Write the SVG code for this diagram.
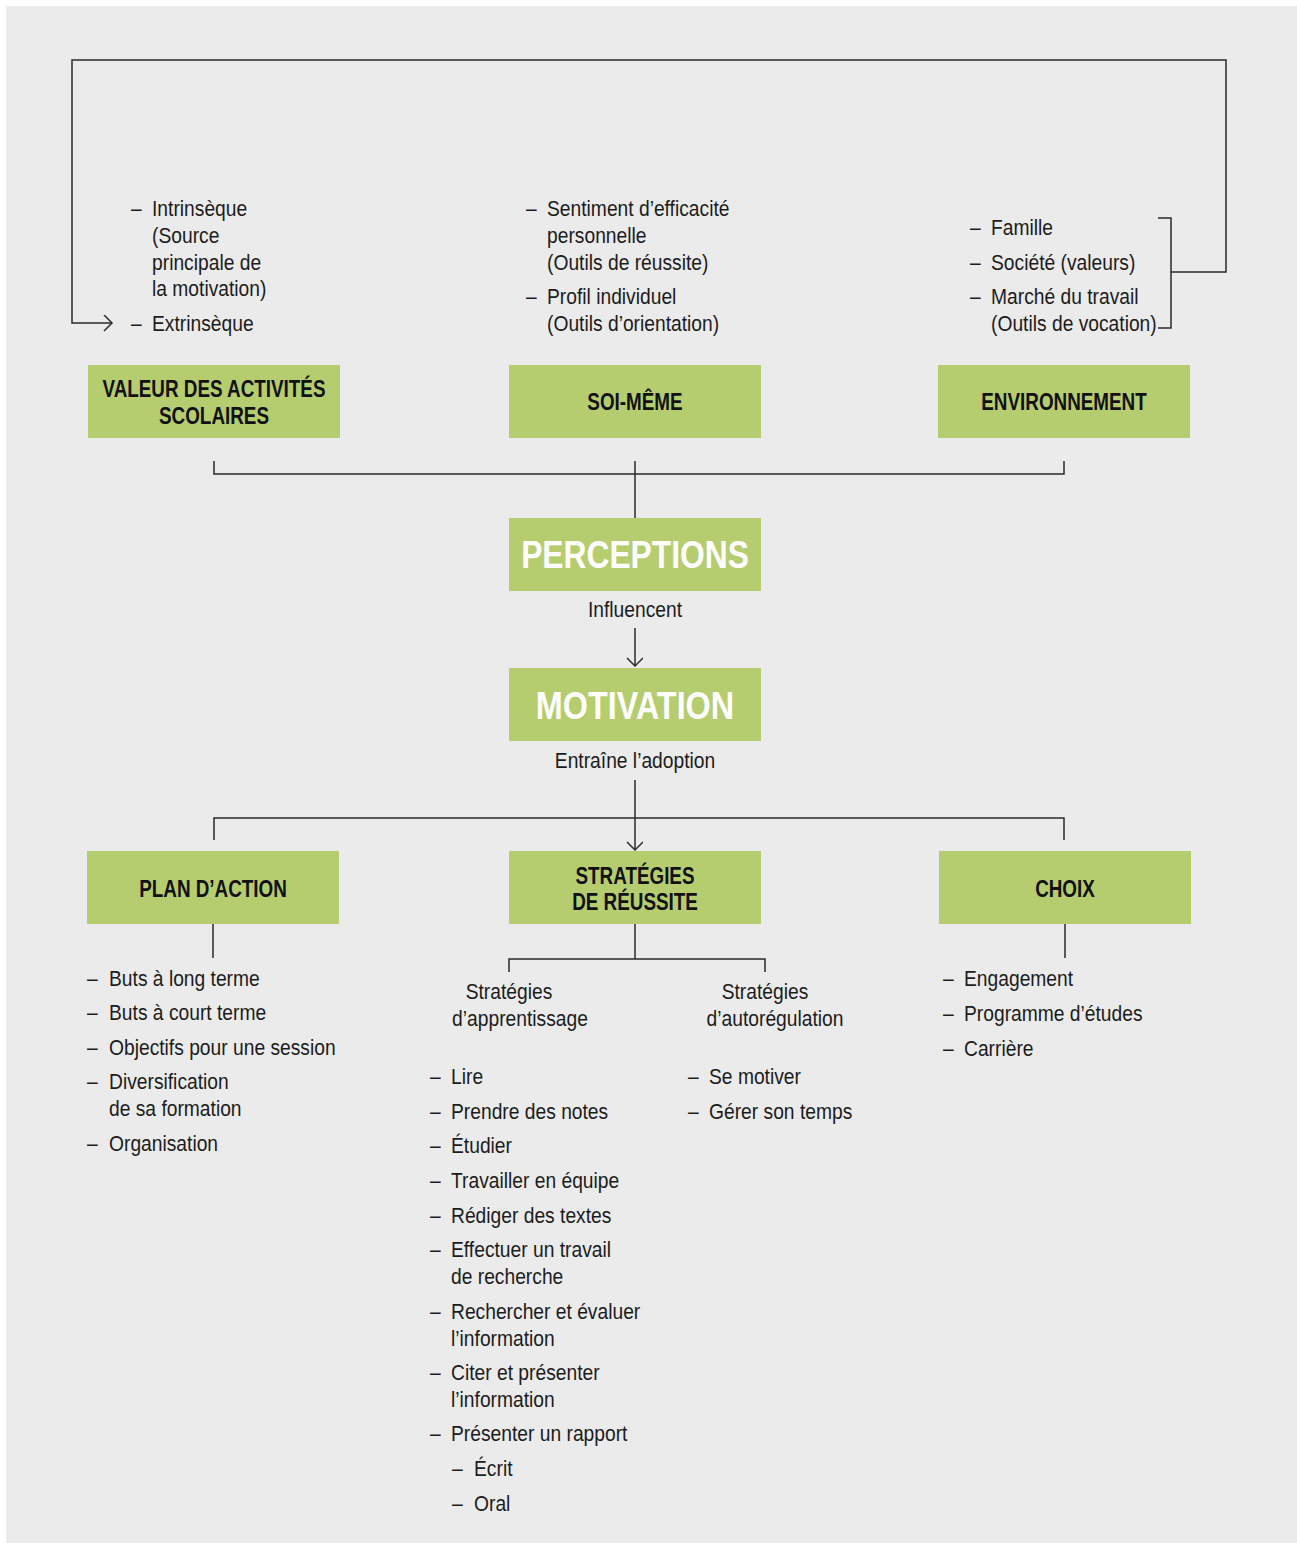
<svg xmlns="http://www.w3.org/2000/svg" width="1297" height="1543" viewBox="0 0 1297 1543">
  <style>
    .bg { fill: #ebebeb; }
    .box { fill: #b6cd6f; }
    .ln { fill: none; stroke: #2a2a2a; stroke-width: 1.5; }
    .t { font-family: "Liberation Sans", Arial, sans-serif; font-size: 21.5px; fill: #1c1c1c; }
    .lbl { font-family: "Liberation Sans", Arial, sans-serif; font-size: 23px; font-weight: bold; fill: #111; text-anchor: middle; }
    .big { font-family: "Liberation Sans", Arial, sans-serif; font-size: 39px; font-weight: bold; fill: #ffffff; text-anchor: middle; }
    .mid { text-anchor: middle; }
  </style>
  <defs>
    <marker id="open" markerUnits="userSpaceOnUse" markerWidth="20" markerHeight="20" refX="10" refY="8" orient="auto">
      <path d="M2,0 L10,8 L2,16" fill="none" stroke="#2a2a2a" stroke-width="1.5"/>
    </marker>
  </defs>

  <rect class="bg" x="6" y="6" width="1291" height="1537"/>

  <!-- connectors -->
  <g id="connectors">
    <!-- feedback loop from environment to the value of school activities -->
    <polyline class="ln" points="1158,218 1171,218 1171,328 1158,328"/>
    <polyline class="ln" points="1171,272 1226,272 1226,60 72,60 72,323 112,323" marker-end="url(#open)"/>
    <!-- three sources join into perceptions -->
    <polyline class="ln" points="214,461 214,474 1064,474 1064,461"/>
    <line class="ln" x1="635" y1="461" x2="635" y2="518"/>
    <!-- perceptions to motivation -->
    <line class="ln" x1="635" y1="628" x2="635" y2="666" marker-end="url(#open)"/>
    <!-- motivation to the three outcomes -->
    <line class="ln" x1="635" y1="780" x2="635" y2="850" marker-end="url(#open)"/>
    <polyline class="ln" points="214,840 214,818 1064,818 1064,840"/>
    <!-- outcome stems -->
    <line class="ln" x1="213" y1="924" x2="213" y2="958"/>
    <line class="ln" x1="1065" y1="924" x2="1065" y2="958"/>
    <line class="ln" x1="635" y1="924" x2="635" y2="959"/>
    <polyline class="ln" points="509,972 509,959 765,959 765,972"/>
  </g>

  <!-- top row -->
  <g id="valeur">
    <rect class="box" x="88" y="365" width="252" height="73"/>
    <g transform="translate(214,0) scale(0.82,1)">
      <text class="lbl" x="0" y="397">VALEUR DES ACTIVITÉS</text>
      <text class="lbl" x="0" y="424">SCOLAIRES</text>
    </g>
    <g class="t" transform="translate(131,0) scale(0.895,1)">
      <text x="0" y="216">–</text><text x="23.5" y="216">Intrinsèque</text>
      <text x="23.5" y="243">(Source</text>
      <text x="23.5" y="270">principale de</text>
      <text x="23.5" y="296">la motivation)</text>
      <text x="0" y="331">–</text><text x="23.5" y="331">Extrinsèque</text>
    </g>
  </g>

  <g id="soi-meme">
    <rect class="box" x="509" y="365" width="252" height="73"/>
    <g transform="translate(635,0) scale(0.82,1)">
      <text class="lbl" x="0" y="410">SOI-MÊME</text>
    </g>
    <g class="t" transform="translate(526,0) scale(0.895,1)">
      <text x="0" y="216">–</text><text x="23.5" y="216">Sentiment d’efficacité</text>
      <text x="23.5" y="243">personnelle</text>
      <text x="23.5" y="270">(Outils de réussite)</text>
      <text x="0" y="304">–</text><text x="23.5" y="304">Profil individuel</text>
      <text x="23.5" y="331">(Outils d’orientation)</text>
    </g>
  </g>

  <g id="environnement">
    <rect class="box" x="938" y="365" width="252" height="73"/>
    <g transform="translate(1064,0) scale(0.82,1)">
      <text class="lbl" x="0" y="410">ENVIRONNEMENT</text>
    </g>
    <g class="t" transform="translate(970,0) scale(0.895,1)">
      <text x="0" y="235">–</text><text x="23.5" y="235">Famille</text>
      <text x="0" y="270">–</text><text x="23.5" y="270">Société (valeurs)</text>
      <text x="0" y="304">–</text><text x="23.5" y="304">Marché du travail</text>
      <text x="23.5" y="331">(Outils de vocation)</text>
    </g>
  </g>

  <!-- central column -->
  <g id="perceptions">
    <rect class="box" x="509" y="518" width="252" height="73"/>
    <g transform="translate(635,0) scale(0.815,1)">
      <text class="big" x="0" y="568">PERCEPTIONS</text>
    </g>
    <g class="t" transform="translate(635,0) scale(0.895,1)">
      <text class="mid" x="0" y="617">Influencent</text>
    </g>
  </g>

  <g id="motivation">
    <rect class="box" x="509" y="668" width="252" height="73"/>
    <g transform="translate(635,0) scale(0.83,1)">
      <text class="big" x="0" y="719">MOTIVATION</text>
    </g>
    <g class="t" transform="translate(635,0) scale(0.895,1)">
      <text class="mid" x="0" y="768">Entraîne l’adoption</text>
    </g>
  </g>

  <!-- bottom row -->
  <g id="plan-action">
    <rect class="box" x="87" y="851" width="252" height="73"/>
    <g transform="translate(213,0) scale(0.82,1)">
      <text class="lbl" x="0" y="897">PLAN D’ACTION</text>
    </g>
    <g class="t" transform="translate(87,0) scale(0.895,1)">
      <text x="0" y="986">–</text><text x="24.6" y="986">Buts à long terme</text>
      <text x="0" y="1020">–</text><text x="24.6" y="1020">Buts à court terme</text>
      <text x="0" y="1055">–</text><text x="24.6" y="1055">Objectifs pour une session</text>
      <text x="0" y="1089">–</text><text x="24.6" y="1089">Diversification</text>
      <text x="24.6" y="1116">de sa formation</text>
      <text x="0" y="1151">–</text><text x="24.6" y="1151">Organisation</text>
    </g>
  </g>

  <g id="strategies">
    <rect class="box" x="509" y="851" width="252" height="73"/>
    <g transform="translate(635,0) scale(0.82,1)">
      <text class="lbl" x="0" y="884">STRATÉGIES</text>
      <text class="lbl" x="0" y="910">DE RÉUSSITE</text>
    </g>
    <g class="t" transform="translate(509,0) scale(0.895,1)">
      <text class="mid" x="0" y="999">Stratégies</text>
      <text class="mid" x="12.3" y="1026">d’apprentissage</text>
    </g>
    <g class="t" transform="translate(765,0) scale(0.895,1)">
      <text class="mid" x="0" y="999">Stratégies</text>
      <text class="mid" x="11.2" y="1026">d’autorégulation</text>
    </g>
    <g class="t" transform="translate(430,0) scale(0.895,1)">
      <text x="0" y="1084">–</text><text x="23.5" y="1084">Lire</text>
      <text x="0" y="1119">–</text><text x="23.5" y="1119">Prendre des notes</text>
      <text x="0" y="1153">–</text><text x="23.5" y="1153">Étudier</text>
      <text x="0" y="1188">–</text><text x="23.5" y="1188">Travailler en équipe</text>
      <text x="0" y="1223">–</text><text x="23.5" y="1223">Rédiger des textes</text>
      <text x="0" y="1257">–</text><text x="23.5" y="1257">Effectuer un travail</text>
      <text x="23.5" y="1284">de recherche</text>
      <text x="0" y="1319">–</text><text x="23.5" y="1319">Rechercher et évaluer</text>
      <text x="23.5" y="1346">l’information</text>
      <text x="0" y="1380">–</text><text x="23.5" y="1380">Citer et présenter</text>
      <text x="23.5" y="1407">l’information</text>
      <text x="0" y="1441">–</text><text x="23.5" y="1441">Présenter un rapport</text>
      <text x="24.6" y="1476">–</text><text x="49.2" y="1476">Écrit</text>
      <text x="24.6" y="1511">–</text><text x="49.2" y="1511">Oral</text>
    </g>
    <g class="t" transform="translate(688,0) scale(0.895,1)">
      <text x="0" y="1084">–</text><text x="23.5" y="1084">Se motiver</text>
      <text x="0" y="1119">–</text><text x="23.5" y="1119">Gérer son temps</text>
    </g>
  </g>

  <g id="choix">
    <rect class="box" x="939" y="851" width="252" height="73"/>
    <g transform="translate(1065,0) scale(0.82,1)">
      <text class="lbl" x="0" y="897">CHOIX</text>
    </g>
    <g class="t" transform="translate(943,0) scale(0.895,1)">
      <text x="0" y="986">–</text><text x="23.5" y="986">Engagement</text>
      <text x="0" y="1021">–</text><text x="23.5" y="1021">Programme d’études</text>
      <text x="0" y="1056">–</text><text x="23.5" y="1056">Carrière</text>
    </g>
  </g>
</svg>
